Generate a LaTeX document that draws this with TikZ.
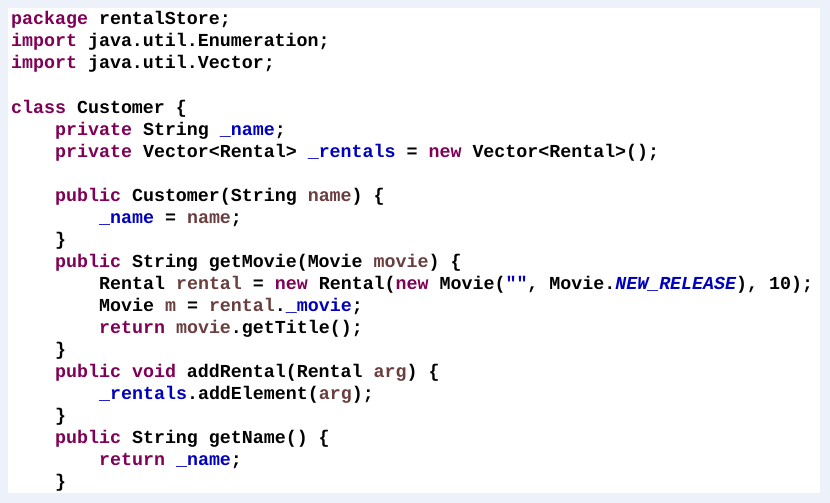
\documentclass[tikz,border=0pt]{standalone}
\usepackage{fontspec}
\setmonofont{Liberation Mono}
\usepackage{tikz}

\definecolor{frameblue}{HTML}{EDF2FA}
\definecolor{kwcol}{HTML}{7F0055}
\definecolor{fldcol}{HTML}{0000C0}
\definecolor{loccol}{HTML}{6A3E3E}
\newcommand{\kw}[1]{\textcolor{kwcol}{#1}}
\newcommand{\fld}[1]{\textcolor{fldcol}{#1}}
\newcommand{\loc}[1]{\textcolor{loccol}{#1}}

\begin{document}
\begin{tikzpicture}[x=1pt, y=-1pt,
    codeline/.style={anchor=base west, inner sep=0pt,
      font=\ttfamily\bfseries\fontsize{18.3}{22}\selectfont}]
            \fill[frameblue] (0,0) rectangle (830,503);
            \fill[white] (8,8) rectangle (820,493);
            \useasboundingbox (0,0) rectangle (830,503);
            % source lines, one node each
            \node[codeline] (l1) at (11,25) {\kw{package} rentalStore;};
            \node[codeline] (l2) at (11,47) {\kw{import} java.util.Enumeration;};
            \node[codeline] (l3) at (11,69) {\kw{import} java.util.Vector;};
            \node[codeline] (l5) at (11,113) {\kw{class} Customer \{};
            \node[codeline] (l6) at (55,135) {\kw{private} String \fld{\_name};};
            \node[codeline] (l7) at (55,157) {\kw{private} Vector<Rental> \fld{\_rentals} = \kw{new} Vector<Rental>();};
            \node[codeline] (l9) at (55,201) {\kw{public} Customer(String \loc{name}) \{};
            \node[codeline] (l10) at (99,223) {\fld{\_name} = \loc{name};};
            \node[codeline] (l11) at (55,245) {\}};
            \node[codeline] (l12) at (55,267) {\kw{public} String getMovie(Movie \loc{movie}) \{};
            \node[codeline] (l13) at (99,289) {Rental \loc{rental} = \kw{new} Rental(\kw{new} Movie(\textcolor{fldcol}{""}, Movie.\fld{\itshape NEW\_RELEASE}), 10);};
            \node[codeline] (l14) at (99,311) {Movie \loc{m} = \loc{rental}.\fld{\_movie};};
            \node[codeline] (l15) at (99,333) {\kw{return} \loc{movie}.getTitle();};
            \node[codeline] (l16) at (55,355) {\}};
            \node[codeline] (l17) at (55,377) {\kw{public} \kw{void} addRental(Rental \loc{arg}) \{};
            \node[codeline] (l18) at (99,399) {\fld{\_rentals}.addElement(\loc{arg});};
            \node[codeline] (l19) at (55,421) {\}};
            \node[codeline] (l20) at (55,443) {\kw{public} String getName() \{};
            \node[codeline] (l21) at (99,465) {\kw{return} \fld{\_name};};
            \node[codeline] (l22) at (55,487) {\}};
\end{tikzpicture}
\end{document}
